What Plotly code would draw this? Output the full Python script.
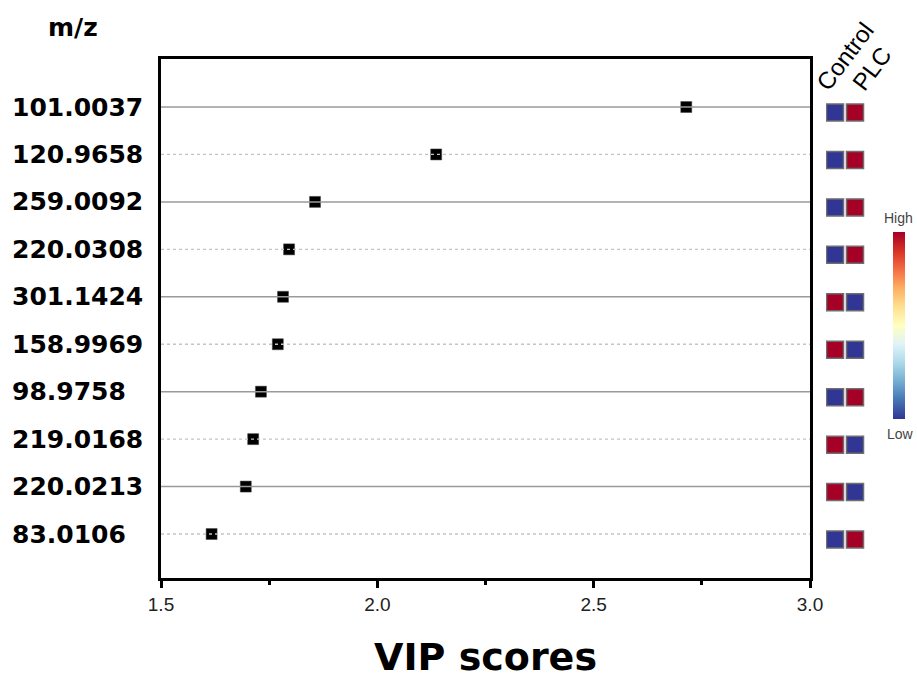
import plotly.graph_objects as go

mz_labels = ["101.0037", "120.9658", "259.0092", "220.0308", "301.1424",
             "158.9969", "98.9758", "219.0168", "220.0213", "83.0106"]
vip_scores = [2.714, 2.136, 1.856, 1.796, 1.782, 1.770, 1.731, 1.713, 1.696, 1.617]
control_level = [0, 0, 0, 0, 1, 1, 0, 1, 1, 0]
plc_level = [1, 1, 1, 1, 0, 0, 1, 0, 0, 1]
group_names = ["Control", "PLC"]
x_ticks = [1.5, 2.0, 2.5, 3.0]

rows = list(range(len(mz_labels)))

W, H = 917, 681
ML, MR, MT, MB = 161, 5, 59, 103
PW = W - ML - MR
PH = H - MT - MB


def px(xp):
    return (xp - ML) / PW


def py(yp):
    return (H - MB - yp) / PH


fig = go.Figure()

# VIP score markers
fig.add_trace(go.Scatter(
    x=vip_scores, y=rows, mode="markers",
    marker=dict(symbol="square", size=11, color="black",
                line=dict(color="#444", width=0.5)),
    xaxis="x", yaxis="y", showlegend=False, hoverinfo="x+y",
))

# Heat squares (Control, PLC)
hx, hy, hz = [], [], []
for i in rows:
    hx += [0, 1]
    hy += [i, i]
    hz += [control_level[i], plc_level[i]]

fig.add_trace(go.Scatter(
    x=hx, y=hy, mode="markers",
    marker=dict(symbol="square", size=17, color=hz, cmin=0, cmax=1,
                colorscale="RdYlBu", reversescale=True,
                line=dict(color="#6e6e6e", width=1.5),
                showscale=True,
                colorbar=dict(x=px(899), xanchor="center", xref="paper",
                              y=py(325.5), yanchor="middle",
                              lenmode="pixels", len=187,
                              thickness=12, outlinewidth=0,
                              xpad=0, ypad=0,
                              ticks="", showticklabels=False)),
    xaxis="x2", yaxis="y2", showlegend=False, hoverinfo="skip",
))

# Alternating solid / dotted row lines drawn above the markers
for i in rows:
    solid = (i % 2 == 0)
    fig.add_shape(type="line", xref="x domain", x0=0, x1=1, yref="y", y0=i, y1=i,
                  layer="above",
                  line=dict(color="#9a9a9a" if solid else "#c4c4c4",
                            width=1.5 if solid else 1.3,
                            dash="solid" if solid else "dot"))

yr = [9.927, -1.012]
shift = 0.116

fig.update_layout(
    width=W, height=H,
    margin=dict(l=ML, r=MR, t=MT, b=MB, autoexpand=False),
    paper_bgcolor="white", plot_bgcolor="white",
    xaxis=dict(domain=[0, px(810)], range=[1.5, 3.0],
               tickvals=x_ticks, ticktext=[f"{v:.1f}" for v in x_ticks],
               showgrid=False, zeroline=False,
               showline=True, linecolor="black", linewidth=3, mirror=True,
               ticks="outside", ticklen=7, tickwidth=2.5, tickcolor="black",
               minor=dict(dtick=0.25, ticks="outside", ticklen=4, tickwidth=2.5,
                          tickcolor="black", showgrid=False),
               tickfont=dict(family="Liberation Sans Narrow, Arial Narrow, Liberation Sans, sans-serif",
                             size=19, color="#222")),
    yaxis=dict(range=yr, showticklabels=False, ticks="", showgrid=False,
               zeroline=False, showline=True, linecolor="black", linewidth=3,
               mirror=True),
    xaxis2=dict(domain=[px(826), px(866)], range=[-0.45, 1.55], visible=False,
                anchor="y2"),
    yaxis2=dict(range=[yr[0] - shift, yr[1] - shift], visible=False,
                anchor="x2", overlaying="y"),
)

ann = []
for i, lab in enumerate(mz_labels):
    ann.append(dict(text=lab, x=px(10), xref="paper", y=i, yref="y",
                    xanchor="left", yanchor="middle", showarrow=False,
                    font=dict(family="DejaVu Sans", size=25, color="black",
                              weight="bold")))
ann.append(dict(text="m/z", x=px(73), y=py(28), xref="paper", yref="paper",
                showarrow=False, xanchor="center", yanchor="middle",
                font=dict(family="DejaVu Sans", size=25, color="black", weight="bold")))
ann.append(dict(text="VIP scores", x=px(485), y=py(657), xref="paper", yref="paper",
                showarrow=False, xanchor="center", yanchor="middle",
                font=dict(family="DejaVu Sans", size=38, color="black", weight="bold")))
ann.append(dict(text=group_names[0], x=px(845), y=py(57), xref="paper", yref="paper",
                showarrow=False, xanchor="center", yanchor="middle", textangle=-53,
                font=dict(family="Liberation Sans, Arial, sans-serif", size=24, color="black")))
ann.append(dict(text=group_names[1], x=px(872), y=py(69), xref="paper", yref="paper",
                showarrow=False, xanchor="center", yanchor="middle", textangle=-53,
                font=dict(family="Liberation Sans, Arial, sans-serif", size=24, color="black")))
ann.append(dict(text="High", x=px(898), y=py(217.5), xref="paper", yref="paper",
                showarrow=False, xanchor="center", yanchor="middle",
                font=dict(family="Liberation Sans, Arial, sans-serif", size=14, color="#444")))
ann.append(dict(text="Low", x=px(900), y=py(434), xref="paper", yref="paper",
                showarrow=False, xanchor="center", yanchor="middle",
                font=dict(family="Liberation Sans, Arial, sans-serif", size=14, color="#444")))
fig.update_layout(annotations=ann)

fig.write_html("out.html")
